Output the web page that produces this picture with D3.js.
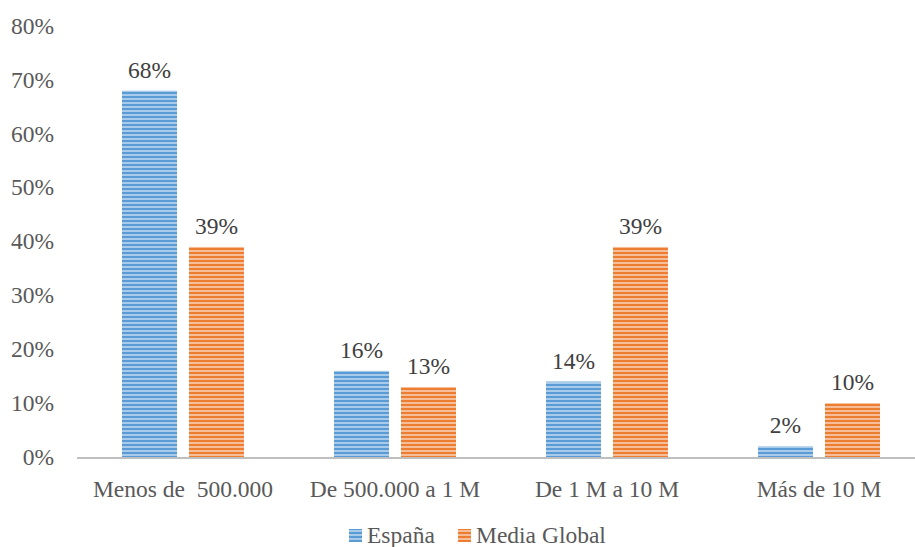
<!DOCTYPE html>
<html><head><meta charset="utf-8">
<script src="https://cdn.jsdelivr.net/npm/d3@7"></script>
<style>body{margin:0;background:#fff}svg{display:block}
text{font-family:"Liberation Serif","Times New Roman","DejaVu Serif",serif;font-size:23.5px}</style>
</head><body>
<script>
const categories = ["Menos de  500.000", "De 500.000 a 1 M", "De 1 M a 10 M", "Más de 10 M"];
const seriesNames = ["España", "Media Global"];
const espana = [68, 16, 14, 2];
const mediaGlobal = [39, 13, 39, 10];
const yTicks = [0, 10, 20, 30, 40, 50, 60, 70, 80];
const colors = ["#5B9BD5", "#ED7D31"];
const lightColors = ["#A9CBEA", "#F6BE98"];

const W = 915, H = 547;
const svg = d3.select("body").append("svg").attr("width", W).attr("height", H);
const defs = svg.append("defs");
colors.forEach((c, i) => {
  const p = defs.append("pattern").attr("id", "pat" + i).attr("patternUnits", "userSpaceOnUse")
    .attr("width", 8).attr("height", 4);
  p.append("rect").attr("width", 8).attr("height", 4).attr("fill", lightColors[i]);
  p.append("rect").attr("width", 8).attr("height", 2).attr("fill", c);
});

const x = d3.scaleBand().domain(categories).range([77, 925]);
const xs = d3.scaleBand().domain(seriesNames).range([0, x.bandwidth()]).paddingInner(0.179).paddingOuter(0.672);
const y = d3.scaleLinear().domain([0, 80]).range([457, 26]);

// y axis labels
svg.append("g").selectAll("text").data(yTicks).join("text")
  .attr("x", 54).attr("y", d => y(d)).attr("dy", "0.33em").attr("text-anchor", "end")
  .attr("fill", "#595959")
  .text(d => d + "%");

const data = [espana, mediaGlobal];
const g = svg.append("g");
categories.forEach((c, ci) => {
  seriesNames.forEach((s, si) => {
    const v = data[si][ci];
    const bx = x(c) + xs(s);
    g.append("rect").attr("x", bx).attr("y", y(v)).attr("width", xs.bandwidth())
      .attr("height", y(0) - y(v)).attr("fill", `url(#pat${si})`);
    g.append("text").attr("x", bx + xs.bandwidth() / 2).attr("y", y(v) - 13)
      .attr("text-anchor", "middle")
      .attr("fill", "#404040").text(v + "%");
  });
});

// x axis line
svg.append("line").attr("x1", 77).attr("x2", 915).attr("y1", y(0) + 1).attr("y2", y(0) + 1)
  .attr("stroke", "#BFBFBF").attr("stroke-width", 2);

// category labels
svg.append("g").selectAll("text").data(categories).join("text")
  .attr("x", d => x(d) + x.bandwidth() / 2).attr("y", 497).attr("text-anchor", "middle")
  .attr("fill", "#595959")
  .style("white-space", "pre").text(d => d);

// legend
const legX = [349, 458];
seriesNames.forEach((s, i) => {
  svg.append("rect").attr("x", legX[i]).attr("y", 529).attr("width", 13).attr("height", 13)
    .attr("fill", `url(#pat${i})`);
  svg.append("text").attr("x", legX[i] + 18).attr("y", 543)
    .attr("fill", "#595959").text(s);
});
</script>
</body></html>
